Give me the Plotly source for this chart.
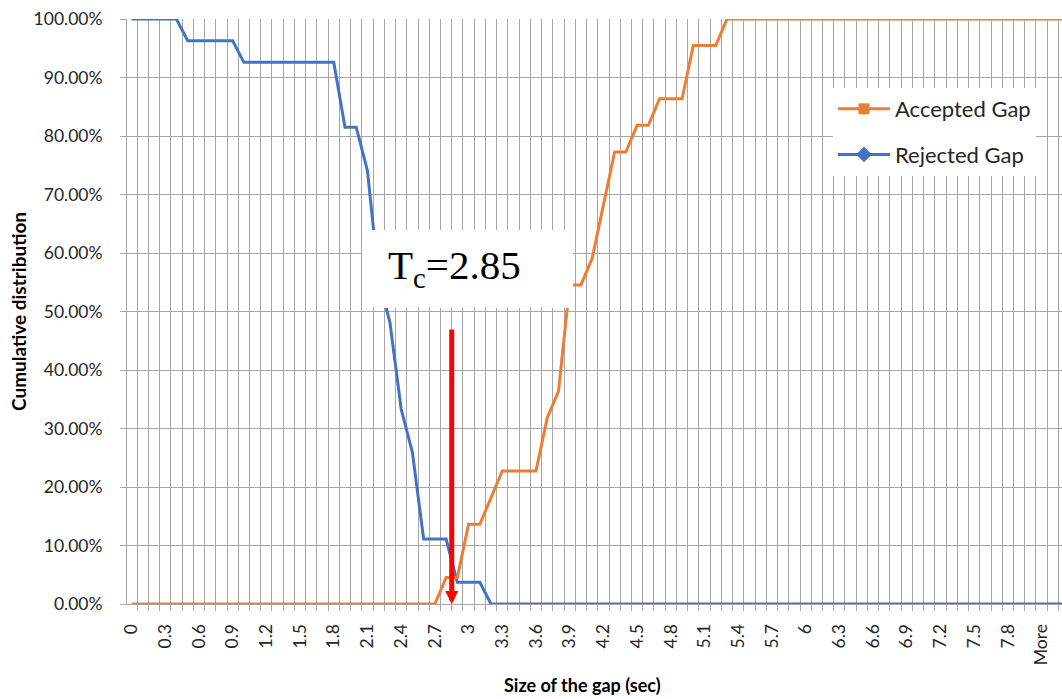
import plotly.graph_objects as go

# Category bins (gap size in sec), as in the Excel histogram output
bin_labels = [f"{i / 10:g}" for i in range(81)] + ["More", "", ""]
x_idx = list(range(len(bin_labels)))
tick_idx = x_idx[0:82:3]
tick_text = [bin_labels[i] for i in tick_idx]

# Cumulative distribution (%) of accepted gaps (22 observations)
accepted_pct = [
    0, 0, 0, 0, 0, 0, 0, 0, 0, 0,
    0, 0, 0, 0, 0, 0, 0, 0, 0, 0,
    0, 0, 0, 0, 0, 0, 0, 0, 4.55, 4.55,
    13.64, 13.64, 18.18, 22.73, 22.73, 22.73, 22.73, 31.82, 36.36, 54.55,
    54.55, 59.09, 68.18, 77.27, 77.27, 81.82, 81.82, 86.36, 86.36, 86.36,
    95.45, 95.45, 95.45, 100, 100, 100, 100, 100, 100, 100,
    100, 100, 100, 100, 100, 100, 100, 100, 100, 100,
    100, 100, 100, 100, 100, 100, 100, 100, 100, 100,
    100, 100, 100, 100,
]

# Cumulative distribution (%) of rejected gaps (27 observations)
rejected_pct = [
    100, 100, 100, 100, 100, 96.30, 96.30, 96.30, 96.30, 96.30,
    92.59, 92.59, 92.59, 92.59, 92.59, 92.59, 92.59, 92.59, 92.59, 81.48,
    81.48, 74.07, 55.56, 48.15, 33.33, 25.93, 11.11, 11.11, 11.11, 3.70,
    3.70, 3.70, 0, 0, 0, 0, 0, 0, 0, 0,
    0, 0, 0, 0, 0, 0, 0, 0, 0, 0,
    0, 0, 0, 0, 0, 0, 0, 0, 0, 0,
    0, 0, 0, 0, 0, 0, 0, 0, 0, 0,
    0, 0, 0, 0, 0, 0, 0, 0, 0, 0,
    0, 0, 0, 0,
]

tc_value = 2.85  # critical gap (sec)

ORANGE = "#ED7D31"
BLUE = "#4472C4"
GRID = "#a6a6a6"
TXT = "#262626"
FONT = "Lato"

fig = go.Figure()

fig.add_trace(go.Scatter(
    x=x_idx, y=[v / 100 for v in rejected_pct], mode="lines",
    line=dict(color=BLUE, width=3), showlegend=False, cliponaxis=False))
fig.add_trace(go.Scatter(
    x=x_idx, y=[v / 100 for v in accepted_pct], mode="lines",
    line=dict(color=ORANGE, width=3), showlegend=False, cliponaxis=False))

# legend entries (line + marker, as in the Excel legend)
fig.add_trace(go.Scatter(
    x=[None], y=[None], mode="lines+markers", name="Accepted Gap",
    line=dict(color=ORANGE, width=3),
    marker=dict(symbol="square", size=11, color=ORANGE), legendgroup="a"))
fig.add_trace(go.Scatter(
    x=[None], y=[None], mode="lines+markers", name="Rejected Gap",
    line=dict(color=BLUE, width=3),
    marker=dict(symbol="diamond", size=12, color=BLUE), legendgroup="r"))

L, R, T, B = 127, 0, 19, 95
W, H = 1062, 699
pw = W - L - R
ph = H - T - B
step = 11.236
x0 = -0.4
x1 = x0 + pw / step


def px_x(px):
    return (px - L) / pw


def px_y(py):
    return (H - B - py) / ph


fig.update_layout(
    width=W, height=H,
    margin=dict(l=L, r=R, t=T, b=B, pad=0),
    paper_bgcolor="white", plot_bgcolor="white",
    font=dict(family=FONT, color=TXT, size=17),
    legend=dict(
        x=px_x(833), y=px_y(88), xanchor="left", yanchor="top",
        bgcolor="white", borderwidth=0,
        font=dict(family=FONT, size=22, color=TXT),
        tracegroupgap=14, itemwidth=52,
    ),
    xaxis=dict(
        range=[x0, x1], tickmode="array", tickvals=tick_idx, ticktext=tick_text,
        tickangle=-90, ticks="", showgrid=False, zeroline=False,
        showline=True, linecolor=GRID, linewidth=1,
        tickfont=dict(family=FONT, size=17.5, color=TXT),
        ticklabelstandoff=12,
        minor=dict(tickmode="linear", tick0=-0.5, dtick=1, ticks="outside",
                   ticklen=6, tickcolor=GRID, showgrid=True,
                   gridcolor=GRID, gridwidth=1),
    ),
    yaxis=dict(
        range=[0, 1], tickmode="linear", tick0=0, dtick=0.1, tickformat=".2%",
        ticks="outside", ticklen=6, tickcolor=GRID,
        showgrid=True, gridcolor=GRID, gridwidth=1, zeroline=False,
        showline=True, linecolor=GRID, linewidth=1,
        tickfont=dict(family=FONT, size=17.5, color=TXT),
        ticklabelstandoff=14,
    ),
    shapes=[dict(
        type="rect", xref="paper", yref="paper", layer="above",
        x0=px_x(362), x1=px_x(573), y0=px_y(308), y1=px_y(230),
        fillcolor="white", line=dict(width=0),
    )],
    annotations=[
        dict(text="<b>Cumulative distribution</b>", xref="paper", yref="paper",
             x=px_x(18), y=px_y(312), textangle=-90, showarrow=False,
             font=dict(family=FONT, size=19, color="black"),
             xanchor="center", yanchor="middle"),
        dict(text="<b>Size of the gap (sec)</b>", xref="paper", yref="paper",
             x=px_x(582), y=px_y(685), showarrow=False,
             font=dict(family=FONT, size=18, color="black"),
             xanchor="center", yanchor="middle"),
        dict(text="T<sub>c</sub>=2.85", xref="paper", yref="paper",
             x=px_x(386), y=px_y(268), showarrow=False,
             font=dict(family="Liberation Serif", size=41, color="black"),
             xanchor="left", yanchor="middle"),
        dict(text="", x=tc_value * 10, y=0, xref="x", yref="y",
             showarrow=True, ax=0, ay=-276, axref="pixel", ayref="pixel",
             arrowhead=2, arrowwidth=5, arrowsize=0.52, arrowcolor="#FF0000",
             standoff=0),
    ],
)

fig.write_html("out.html",
               config={"displayModeBar": False},
               post_script="document.body.style.margin='0px';"
                           "document.body.style.overflow='hidden';")
